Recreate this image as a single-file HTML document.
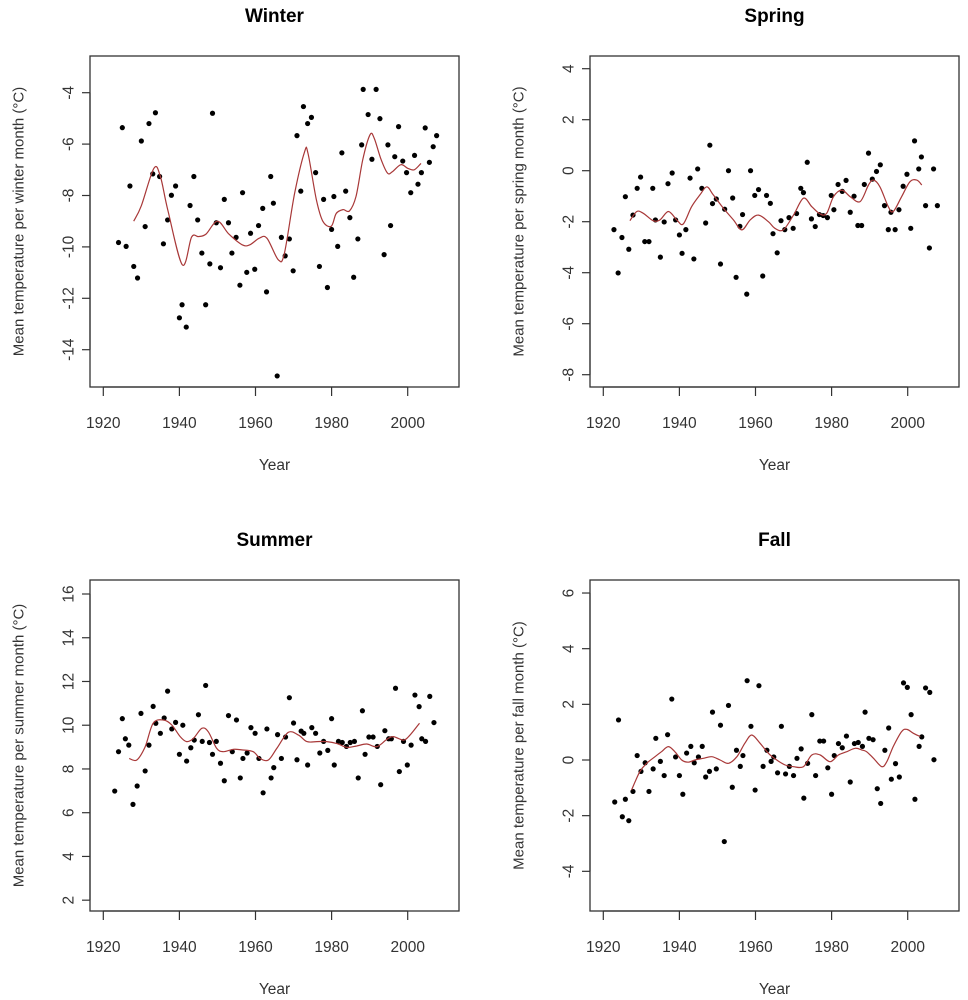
<!DOCTYPE html>
<html><head><meta charset="utf-8"><style>
html,body{margin:0;padding:0;background:#fff;}
svg{display:block;font-family:"Liberation Sans",Arial,sans-serif;}
</style></head><body>
<svg id="chart" width="968" height="1000" viewBox="0 0 968 1000" xmlns="http://www.w3.org/2000/svg"></svg>
<script>
const xTicks = [1920, 1940, 1960, 1980, 2000];

const winterYears = [1924,1925,1926,1927,1928,1929,1930,1931,1932,1933,1933.7,1934.8,1935.8,1936.9,1937.9,1939,1940,1940.7,1941.8,1942.8,1943.8,1944.8,1945.9,1946.9,1948,1948.7,1949.7,1950.8,1951.8,1952.9,1953.8,1954.9,1955.9,1956.6,1957.7,1958.7,1959.8,1960.8,1961.9,1962.9,1964,1964.7,1965.7,1966.8,1967.8,1968.9,1969.9,1970.9,1971.9,1972.6,1973.7,1974.7,1975.8,1976.8,1977.9,1978.9,1980,1980.6,1981.6,1982.7,1983.7,1984.8,1985.8,1986.9,1987.9,1988.3,1989.6,1990.6,1991.7,1992.7,1993.8,1994.8,1995.5,1996.6,1997.6,1998.7,1999.7,2000.8,2001.8,2002.7,2003.6,2004.6,2005.7,2006.7,2007.6];
const winterValues = [-9.83,-5.36,-9.98,-7.63,-10.76,-11.21,-5.88,-9.21,-5.2,-7.16,-4.78,-7.26,-9.88,-8.95,-7.99,-7.63,-12.76,-12.25,-13.12,-8.39,-7.26,-8.95,-10.24,-12.25,-10.66,-4.8,-9.06,-10.81,-8.15,-9.06,-10.24,-9.63,-11.49,-7.89,-10.99,-9.47,-10.87,-9.17,-8.5,-11.75,-7.26,-8.3,-15.02,-9.63,-10.35,-9.69,-10.93,-5.67,-7.83,-4.54,-5.2,-4.96,-7.11,-10.76,-8.15,-11.58,-9.32,-8.04,-9.98,-6.34,-7.83,-8.86,-11.18,-9.69,-6.03,-3.87,-4.85,-6.59,-3.87,-5.01,-10.3,-6.03,-9.17,-6.49,-5.32,-6.66,-7.11,-7.89,-6.44,-7.56,-7.11,-5.37,-6.71,-6.1,-5.67];
const winterSmoothYears = [1928,1930,1933.3,1935,1937,1940.8,1943.2,1945,1947,1950,1953,1956.5,1958.5,1961,1963,1966,1967.6,1970.3,1972.9,1973.8,1976,1977.7,1979.9,1981.2,1983,1984.7,1986.4,1988.2,1990.1,1991.2,1993,1994.7,1996,1998.2,2000,2001.7,2003.5];
const winterSmoothValues = [-9.0,-8.4,-6.94,-7.26,-8.6,-10.7,-9.62,-9.6,-9.5,-9.0,-9.5,-9.92,-9.92,-9.66,-9.66,-10.5,-10.25,-7.9,-6.3,-6.36,-8.17,-9.0,-9.2,-8.7,-8.55,-8.6,-8.04,-6.6,-5.64,-5.77,-6.6,-7.13,-7.07,-6.8,-6.94,-7.0,-6.75];
const winterTicks = [-4,-6,-8,-10,-12,-14];

const springYears = [1922.8,1923.9,1924.9,1925.8,1926.7,1927.8,1928.9,1929.8,1930.9,1932,1933,1933.7,1935,1936,1937,1938.1,1939,1940,1940.7,1941.7,1942.8,1943.8,1944.8,1945.9,1946.9,1948,1948.7,1949.7,1950.8,1951.9,1952.9,1954,1954.9,1955.9,1956.6,1957.7,1958.7,1959.8,1960.8,1961.9,1962.9,1963.9,1964.6,1965.7,1966.7,1967.7,1968.8,1969.9,1970.8,1971.9,1972.6,1973.6,1974.7,1975.7,1976.8,1977.8,1978.9,1979.9,1980.6,1981.7,1982.8,1983.8,1984.9,1985.9,1986.9,1987.9,1988.6,1989.7,1990.7,1991.8,1992.8,1993.9,1994.9,1995.6,1996.7,1997.7,1998.8,1999.8,2000.8,2001.8,2002.9,2003.6,2004.7,2005.7,2006.8,2007.8];
const springValues = [-2.31,-4.01,-2.62,-1.02,-3.08,-1.74,-0.69,-0.25,-2.78,-2.78,-0.69,-1.93,-3.39,-2.01,-0.51,-0.09,-1.93,-2.52,-3.24,-2.31,-0.29,-3.46,0.07,-0.69,-2.05,1.0,-1.29,-1.11,-3.66,-1.51,0.0,-1.07,-4.18,-2.18,-1.72,-4.84,0,-0.97,-0.74,-4.13,-0.97,-1.28,-2.47,-3.22,-1.96,-2.31,-1.84,-2.26,-1.68,-0.69,-0.86,0.33,-1.89,-2.19,-1.72,-1.76,-1.84,-0.97,-1.53,-0.54,-0.81,-0.38,-1.63,-1.0,-2.15,-2.15,-0.54,0.69,-0.33,-0.03,0.23,-1.37,-2.31,-1.63,-2.31,-1.53,-0.61,-0.14,-2.26,1.17,0.07,0.54,-1.37,-3.03,0.07,-1.37];
const springSmoothYears = [1927,1928.8,1930.5,1933.1,1934.9,1937.1,1939.3,1941,1943.2,1945.4,1947.2,1948.9,1951.6,1954.2,1956.4,1958.6,1960.8,1963.4,1965.1,1967.3,1970,1972.6,1974.8,1977,1978.7,1980.5,1982.7,1984.9,1987.5,1989.7,1991,1992.7,1994.9,1996.2,1998.4,2000.6,2002.4,2003.7];
const springSmoothValues = [-1.96,-1.6,-1.67,-1.96,-1.93,-1.6,-1.93,-2.09,-1.41,-0.95,-0.63,-0.95,-1.48,-1.93,-2.32,-1.93,-1.74,-2.0,-2.26,-2.32,-1.74,-1.08,-1.41,-1.7,-1.67,-1.02,-0.76,-1.02,-1.21,-0.56,-0.37,-0.63,-1.41,-1.6,-1.02,-0.43,-0.37,-0.56];
const springTicks = [4,2,0,-2,-4,-6,-8];

const summerYears = [1923,1924,1925,1925.8,1926.7,1927.8,1928.9,1929.9,1931,1932,1933.1,1933.8,1935,1936,1936.9,1938,1939,1940,1940.9,1941.9,1943,1943.9,1945,1946,1946.9,1947.9,1948.7,1949.7,1950.8,1951.8,1952.9,1953.9,1955,1956,1956.7,1957.8,1958.8,1959.9,1960.9,1962,1963,1964.1,1964.8,1965.8,1966.8,1967.9,1968.9,1970,1970.9,1972,1972.7,1973.7,1974.8,1975.8,1976.9,1977.9,1979,1980,1980.7,1981.8,1982.8,1983.9,1984.9,1986,1987,1988.1,1988.8,1989.8,1990.9,1992,1992.9,1994,1995,1995.7,1996.8,1997.8,1998.9,1999.9,2000.9,2001.9,2003,2003.7,2004.7,2005.8,2006.9];
const summerValues = [6.99,8.79,10.3,9.38,9.09,6.38,7.22,10.54,7.91,9.09,10.86,10.09,9.63,10.33,11.56,9.83,10.13,8.67,10.0,8.36,8.97,9.32,10.48,9.26,11.82,9.21,8.67,9.26,8.26,7.46,10.44,8.79,10.24,7.59,8.48,8.73,9.89,9.63,8.48,6.91,9.83,7.59,8.06,9.57,8.48,9.46,11.26,10.1,8.42,9.73,9.63,8.18,9.89,9.63,8.73,9.26,8.85,10.3,8.18,9.26,9.21,9.03,9.21,9.26,7.59,10.66,8.67,9.46,9.46,9.03,7.28,9.75,9.38,9.38,11.69,7.88,9.26,8.18,9.09,11.38,10.85,9.38,9.26,11.32,10.12];
const summerSmoothYears = [1926.8,1928.8,1931,1933.1,1935.8,1938,1940.2,1941.9,1943.7,1945.9,1947.6,1949.8,1951.6,1954.2,1956.4,1959.4,1961.2,1963.4,1965.6,1968.6,1971.3,1973.5,1976.1,1978.7,1981.3,1984,1986.6,1989.2,1991.9,1994.5,1996.2,1998.9,2000.6,2003.1];
const summerSmoothValues = [8.48,8.41,9.02,10.09,10.24,10.01,9.48,9.25,9.4,9.86,9.7,8.94,8.79,8.9,8.87,8.79,8.48,8.41,8.94,9.67,9.55,9.25,9.25,9.25,9.17,8.99,9.05,9.14,9.02,9.35,9.48,9.32,9.55,10.09];
const summerTicks = [16,14,12,10,8,6,4,2];

const fallYears = summerYears.slice();
const fallValues = [-1.51,1.44,-2.04,-1.41,-2.18,-1.13,0.16,-0.41,-0.1,-1.13,-0.32,0.78,-0.05,-0.56,0.91,2.19,0.11,-0.56,-1.23,0.25,0.49,-0.1,0.11,0.49,-0.61,-0.41,1.72,-0.32,1.25,-2.93,1.96,-0.98,0.35,-0.23,0.16,2.85,1.21,-1.08,2.67,-0.23,0.35,-0.05,0.11,-0.46,1.21,-0.5,-0.23,-0.56,0.06,0.4,-1.37,-0.12,1.63,-0.56,0.68,0.68,-0.28,-1.23,0.16,0.59,0.44,0.86,-0.79,0.59,0.63,0.49,1.72,0.78,0.73,-1.03,-1.56,0.35,1.15,-0.69,-0.13,-0.61,2.77,2.61,1.63,-1.41,0.49,0.83,2.59,2.43,0.01];
const fallSmoothYears = [1927.4,1929.6,1931.4,1933.6,1935.3,1937.1,1938.8,1940.6,1942.3,1944.1,1946.3,1948.5,1950.7,1952.9,1955.1,1957.2,1959,1961.2,1963.4,1965.6,1967.8,1970,1972.6,1974.8,1977,1979.6,1981.8,1984,1986.2,1988,1989.2,1991,1993.2,1994.5,1996.2,1998.4,1999.8,2001.5,2003.3];
const fallSmoothValues = [-1.08,-0.42,-0.12,0.12,0.3,0.48,0.3,0,-0.08,0,0.06,0.12,0,-0.12,0.12,0.6,0.9,0.6,0.24,0,-0.18,-0.24,-0.24,0.18,0.18,-0.06,0.18,0.3,0.42,0.36,0.3,0.06,-0.24,-0.06,0.48,1.02,1.1,0.96,0.84];
const fallTicks = [6,4,2,0,-2,-4];

const NS = 'http://www.w3.org/2000/svg';
const svg = document.getElementById('chart');
function mk(tag, attrs, parent) {
  const e = document.createElementNS(NS, tag);
  for (const k in attrs) e.setAttribute(k, attrs[k]);
  (parent || svg).appendChild(e);
  return e;
}
function smoothPath(P) {
  let d = 'M' + P[0][0].toFixed(1) + ',' + P[0][1].toFixed(1);
  for (let i = 0; i < P.length - 1; i++) {
    const p0 = P[i - 1] || P[i], p1 = P[i], p2 = P[i + 1], p3 = P[i + 2] || P[i + 1];
    const c1x = p1[0] + (p2[0] - p0[0]) / 6, c1y = p1[1] + (p2[1] - p0[1]) / 6;
    const c2x = p2[0] - (p3[0] - p1[0]) / 6, c2y = p2[1] - (p3[1] - p1[1]) / 6;
    d += ' C' + c1x.toFixed(1) + ',' + c1y.toFixed(1) + ' ' + c2x.toFixed(1) + ',' + c2y.toFixed(1) + ' ' + p2[0].toFixed(1) + ',' + p2[1].toFixed(1);
  }
  return d;
}

const panels = [
  {key:'winter', title:'Winter', season:'winter', ox:0, oy:0, years:winterYears, vals:winterValues, sy:winterSmoothYears, sv:winterSmoothValues, ticks:winterTicks, y0:-4, py0:92.7, k:25.7},
  {key:'spring', title:'Spring', season:'spring', ox:500, oy:0, years:springYears, vals:springValues, sy:springSmoothYears, sv:springSmoothValues, ticks:springTicks, y0:0, py0:170.7, k:25.5},
  {key:'summer', title:'Summer', season:'summer', ox:0, oy:524, years:summerYears, vals:summerValues, sy:summerSmoothYears, sv:summerSmoothValues, ticks:summerTicks, y0:16, py0:594, k:21.87},
  {key:'fall', title:'Fall', season:'fall', ox:500, oy:524, years:fallYears, vals:fallValues, sy:fallSmoothYears, sv:fallSmoothValues, ticks:fallTicks, y0:0, py0:760, k:27.83}
];

panels.forEach(p => {
  const g = mk('g', {});
  
  
  const X = yr => p.ox + 103.3 + (yr - 1920) * 3.805;
  const Y = v => p.py0 + (p.y0 - v) * p.k;
  const bx = p.ox + 90, by = p.oy + 56, bw = 369, bh = 331;
  const cx = bx + bw / 2, cy = by + bh / 2;

  const t = mk('text', {x: cx, y: p.oy + 22, 'text-anchor': 'middle', 'font-size': '19', 'font-weight': 'bold', fill: '#000'}, g);
  t.textContent = p.title;
  
  

  const box = mk('rect', {x: bx, y: by, width: bw, height: bh, fill: 'none', stroke: '#333', 'stroke-width': '1.3'}, g);
  
  

  const xa = mk('g', {}, g);
  
  
  mk('line', {x1: X(xTicks[0]), x2: X(xTicks[xTicks.length - 1]), y1: by + bh, y2: by + bh, stroke: '#333', 'stroke-width': '1.2'}, xa);
  xTicks.forEach(v => {
    mk('line', {x1: X(v), x2: X(v), y1: by + bh, y2: by + bh + 9, stroke: '#333', 'stroke-width': '1.2'}, xa);
    const tl = mk('text', {x: X(v), y: by + bh + 41, 'text-anchor': 'middle', 'font-size': '15.5', fill: '#333'}, xa);
    tl.textContent = v;
    
    
  });
  const xt = mk('text', {x: cx, y: by + bh + 83, 'text-anchor': 'middle', 'font-size': '15.5', fill: '#333'}, g);
  xt.textContent = 'Year';
  
  

  const ya = mk('g', {}, g);
  
  
  mk('line', {x1: bx, x2: bx, y1: Y(p.ticks[0]), y2: Y(p.ticks[p.ticks.length - 1]), stroke: '#333', 'stroke-width': '1.2'}, ya);
  p.ticks.forEach(v => {
    mk('line', {x1: bx - 8, x2: bx, y1: Y(v), y2: Y(v), stroke: '#333', 'stroke-width': '1.2'}, ya);
    const tx = bx - 22, ty = Y(v);
    const tl = mk('text', {x: tx, y: ty + 5.5, 'text-anchor': 'middle', 'font-size': '15.5', fill: '#333', transform: 'rotate(-90 ' + tx + ' ' + ty + ')'}, ya);
    tl.textContent = v;
    
    
  });
  const ytx = p.ox + 18;
  const yt = mk('text', {x: ytx, y: cy + 5.5, 'text-anchor': 'middle', 'font-size': '15', fill: '#333', transform: 'rotate(-90 ' + ytx + ' ' + cy + ')'}, g);
  yt.textContent = 'Mean temperature per ' + p.season + ' month  (°C)';
  
  

  const pts = mk('g', {fill: '#000'}, g);
  
  
  p.years.forEach((yr, i) => {
    const c = mk('circle', {cx: X(yr), cy: Y(p.vals[i]), r: '2.6'}, pts);
    
    
  });

  const P = p.sy.map((yr, i) => [X(yr), Y(p.sv[i])]);
  const ln = mk('path', {d: smoothPath(P), fill: 'none', stroke: '#a83838', 'stroke-width': '1.2', 'stroke-linejoin': 'round'}, g);
  
  
});
</script>
</body></html>
